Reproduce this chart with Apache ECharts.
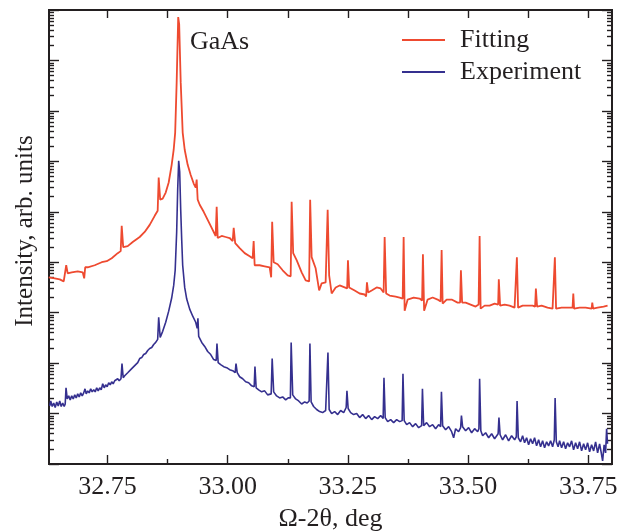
<!DOCTYPE html>
<html>
<head>
<meta charset="utf-8">
<script src="https://cdn.jsdelivr.net/npm/echarts@6/dist/echarts.min.js"></script>
<style>
html,body{margin:0;padding:0;background:#fff;}
#chart{width:629px;height:532px;}
</style>
</head>
<body>
<div id="chart"></div>
<script>
// ---- data (x in deg, intensity given as log10 of arb. units) ----
const xRange = [32.6285, 33.7993];
const xLabelTicks = [32.75, 33.00, 33.25, 33.50, 33.75];
const xMinorTicks = [32.875, 33.125, 33.375, 33.625];
const xTopTicks = [32.75, 32.875, 33.00, 33.125, 33.25, 33.375, 33.50, 33.625, 33.75];
const yDecades = [0, 1, 2, 3, 4, 5, 6, 7, 8, 9];
const seriesNames = ['Fitting', 'Experiment'];
const annotation = 'GaAs';

const fittingLog = [
[32.6279,3.70],[32.6404,3.68],[32.6508,3.66],[32.6591,3.62],[32.6622,3.60],[32.6643,3.94],[32.6674,3.78],[32.6757,3.80],[32.6882,3.82],[32.6986,3.80],
[32.7017,3.68],[32.7038,3.90],[32.7090,3.90],[32.7236,3.94],[32.7381,4.00],[32.7485,4.02],[32.7589,4.08],[32.7714,4.18],[32.7776,4.22],[32.7797,4.72],
[32.7828,4.30],[32.7922,4.32],[32.8026,4.40],[32.8171,4.50],[32.8275,4.60],[32.8379,4.74],[32.8483,4.92],[32.8545,5.02],[32.8566,5.68],[32.8597,5.24],
[32.8649,5.26],[32.8712,5.38],[32.8774,5.58],[32.8836,5.93],[32.8878,6.23],[32.8909,6.57],[32.8940,7.57],[32.8972,8.86],[32.8992,8.72],[32.9024,7.57],
[32.9065,6.57],[32.9107,6.23],[32.9169,5.93],[32.9232,5.73],[32.9294,5.56],[32.9336,5.48],[32.9356,5.64],[32.9377,5.24],[32.9419,5.14],[32.9502,5.00],
[32.9585,4.84],[32.9668,4.68],[32.9751,4.52],[32.9772,5.10],[32.9793,4.48],[32.9876,4.52],[32.9959,4.50],[33.0042,4.48],[33.0105,4.42],[33.0126,4.68],
[33.0157,4.38],[33.0250,4.28],[33.0354,4.18],[33.0458,4.12],[33.0520,4.08],[33.0541,4.42],[33.0562,3.94],[33.0666,3.94],[33.0770,3.92],[33.0874,3.90],
[33.0905,3.70],[33.0926,4.80],[33.0957,4.00],[33.1040,3.96],[33.1144,3.84],[33.1248,3.74],[33.1311,3.72],[33.1331,5.20],[33.1363,4.18],[33.1435,4.04],
[33.1539,3.80],[33.1623,3.64],[33.1695,3.62],[33.1716,5.24],[33.1747,4.10],[33.1830,3.88],[33.1903,3.44],[33.1955,3.58],[33.2038,3.60],[33.2080,5.04],
[33.2111,3.74],[33.2163,3.38],[33.2247,3.50],[33.2329,3.54],[33.2433,3.50],[33.2485,3.48],[33.2502,4.04],[33.2527,3.50],[33.2641,3.44],[33.2745,3.38],
[33.2849,3.36],[33.2880,3.32],[33.2897,3.60],[33.2922,3.40],[33.2995,3.44],[33.3099,3.50],[33.3182,3.48],[33.3244,3.40],[33.3265,4.50],[33.3296,3.38],
[33.3369,3.34],[33.3494,3.32],[33.3577,3.30],[33.3640,3.28],[33.3660,4.50],[33.3681,3.04],[33.3743,3.26],[33.3868,3.30],[33.3992,3.28],[33.4044,3.24],
[33.4061,4.16],[33.4086,3.04],[33.4159,3.26],[33.4263,3.30],[33.4367,3.26],[33.4429,3.22],[33.4450,4.24],[33.4471,3.18],[33.4554,3.26],[33.4658,3.26],
[33.4782,3.20],[33.4834,3.20],[33.4851,3.84],[33.4876,3.20],[33.4949,3.20],[33.5053,3.16],[33.5157,3.12],[33.5219,3.16],[33.5240,4.52],[33.5261,3.08],
[33.5344,3.14],[33.5448,3.14],[33.5552,3.18],[33.5625,3.16],[33.5639,3.66],[33.5666,3.14],[33.5760,3.16],[33.5863,3.14],[33.5967,3.10],[33.5999,3.10],
[33.6015,4.10],[33.6040,3.10],[33.6134,3.14],[33.6238,3.14],[33.6342,3.14],[33.6394,3.12],[33.6410,3.48],[33.6435,3.12],[33.6529,3.14],[33.6653,3.10],
[33.6757,3.08],[33.6789,3.08],[33.6805,4.10],[33.6830,3.08],[33.6945,3.10],[33.7069,3.10],[33.7173,3.10],[33.7188,3.38],[33.7205,3.08],[33.7319,3.10],
[33.7444,3.10],[33.7569,3.08],[33.7583,3.20],[33.7600,3.08],[33.7693,3.10],[33.7818,3.12],[33.7901,3.14]
];

const experimentLog = [
[32.6300,1.15],[32.6321,1.25],[32.6352,1.14],[32.6383,1.21],[32.6414,1.12],[32.6446,1.23],[32.6477,1.15],[32.6508,1.25],[32.6539,1.14],[32.6570,1.21],
[32.6601,1.14],[32.6622,1.19],[32.6639,1.51],[32.6664,1.29],[32.6695,1.35],[32.6726,1.27],[32.6757,1.35],[32.6789,1.29],[32.6820,1.37],[32.6851,1.31],
[32.6882,1.39],[32.6913,1.33],[32.6944,1.41],[32.6976,1.35],[32.7007,1.41],[32.7034,1.49],[32.7059,1.39],[32.7090,1.45],[32.7121,1.41],[32.7152,1.49],
[32.7183,1.43],[32.7215,1.47],[32.7246,1.43],[32.7277,1.51],[32.7308,1.45],[32.7340,1.51],[32.7371,1.47],[32.7402,1.59],[32.7433,1.51],[32.7464,1.57],
[32.7495,1.53],[32.7527,1.61],[32.7558,1.57],[32.7589,1.63],[32.7620,1.59],[32.7651,1.65],[32.7682,1.63],[32.7714,1.69],[32.7745,1.65],[32.7782,1.69],
[32.7803,1.99],[32.7828,1.71],[32.7859,1.75],[32.7890,1.73],[32.7922,1.81],[32.7963,1.83],[32.8005,1.89],[32.8046,1.91],[32.8088,1.97],[32.8130,2.01],
[32.8171,2.09],[32.8213,2.11],[32.8254,2.17],[32.8296,2.19],[32.8338,2.25],[32.8379,2.29],[32.8421,2.31],[32.8462,2.37],[32.8504,2.41],[32.8545,2.47],
[32.8566,2.91],[32.8597,2.51],[32.8649,2.63],[32.8712,2.81],[32.8774,3.03],[32.8836,3.29],[32.8878,3.54],[32.8909,3.84],[32.8940,4.60],[32.8961,5.44],
[32.8982,6.01],[32.9003,5.79],[32.9024,5.04],[32.9045,4.44],[32.9065,3.94],[32.9107,3.50],[32.9149,3.27],[32.9211,3.07],[32.9274,2.93],[32.9336,2.81],
[32.9367,2.69],[32.9382,2.89],[32.9398,2.53],[32.9461,2.41],[32.9523,2.33],[32.9585,2.23],[32.9648,2.17],[32.9710,2.07],[32.9762,2.05],[32.9778,2.39],
[32.9803,2.01],[32.9855,1.97],[32.9918,1.93],[32.9980,1.91],[33.0042,1.87],[33.0105,1.85],[33.0157,1.81],[33.0174,1.99],[33.0199,1.81],[33.0250,1.73],
[33.0313,1.69],[33.0375,1.63],[33.0437,1.61],[33.0500,1.55],[33.0552,1.53],[33.0568,1.93],[33.0593,1.51],[33.0645,1.47],[33.0708,1.43],[33.0770,1.45],
[33.0832,1.37],[33.0905,1.39],[33.0926,2.09],[33.0957,1.43],[33.1019,1.35],[33.1082,1.31],[33.1144,1.33],[33.1207,1.27],[33.1259,1.31],[33.1305,1.31],
[33.1321,2.41],[33.1353,1.37],[33.1415,1.29],[33.1477,1.25],[33.1539,1.19],[33.1602,1.23],[33.1654,1.21],[33.1695,1.25],[33.1711,2.39],[33.1736,1.23],
[33.1788,1.14],[33.1851,1.08],[33.1913,1.04],[33.1975,1.02],[33.2038,1.06],[33.2069,1.04],[33.2086,2.21],[33.2111,1.08],[33.2163,1.00],[33.2225,1.04],
[33.2288,0.98],[33.2350,1.06],[33.2413,1.02],[33.2465,1.12],[33.2481,1.45],[33.2506,1.10],[33.2558,1.02],[33.2620,0.98],[33.2683,1.00],[33.2745,0.92],
[33.2807,0.98],[33.2870,0.90],[33.2932,0.96],[33.2995,0.88],[33.3057,0.94],[33.3120,0.90],[33.3182,0.96],[33.3234,0.90],[33.3251,1.71],[33.3276,0.92],
[33.3328,0.84],[33.3390,0.88],[33.3452,0.82],[33.3515,0.88],[33.3577,0.84],[33.3629,0.86],[33.3646,1.79],[33.3671,0.86],[33.3723,0.78],[33.3784,0.82],
[33.3847,0.74],[33.3909,0.80],[33.3972,0.72],[33.4034,0.76],[33.4051,1.49],[33.4076,0.76],[33.4138,0.82],[33.4200,0.74],[33.4263,0.78],[33.4325,0.70],
[33.4387,0.78],[33.4429,0.74],[33.4446,1.43],[33.4471,0.76],[33.4533,0.68],[33.4596,0.74],[33.4658,0.64],[33.4700,0.52],[33.4741,0.70],[33.4803,0.64],
[33.4845,0.72],[33.4862,0.96],[33.4886,0.74],[33.4949,0.66],[33.5011,0.72],[33.5074,0.62],[33.5136,0.70],[33.5199,0.64],[33.5226,0.70],[33.5240,1.69],
[33.5265,0.66],[33.5303,0.56],[33.5365,0.62],[33.5428,0.52],[33.5490,0.60],[33.5552,0.50],[33.5625,0.60],[33.5642,0.92],[33.5666,0.58],[33.5718,0.48],
[33.5781,0.58],[33.5843,0.46],[33.5905,0.56],[33.5968,0.48],[33.6003,0.54],[33.6019,1.25],[33.6044,0.52],[33.6092,0.44],[33.6134,0.56],[33.6175,0.42],
[33.6217,0.52],[33.6259,0.38],[33.6300,0.50],[33.6342,0.40],[33.6383,0.52],[33.6425,0.36],[33.6467,0.48],[33.6508,0.34],[33.6550,0.46],[33.6591,0.32],
[33.6633,0.44],[33.6675,0.36],[33.6716,0.46],[33.6758,0.34],[33.6793,0.48],[33.6810,1.31],[33.6835,0.44],[33.6872,0.34],[33.6903,0.46],[33.6945,0.32],
[33.6987,0.44],[33.7028,0.30],[33.7070,0.42],[33.7111,0.34],[33.7153,0.46],[33.7194,0.28],[33.7236,0.42],[33.7278,0.30],[33.7319,0.44],[33.7361,0.26],
[33.7403,0.40],[33.7444,0.28],[33.7486,0.42],[33.7527,0.24],[33.7569,0.38],[33.7611,0.26],[33.7652,0.44],[33.7694,0.22],[33.7735,0.40],[33.7766,0.24],
[33.7798,0.06],[33.7829,0.38],[33.7860,0.22],[33.7881,0.70],[33.7900,0.40]
];

// ---- presentation ----
const FONT = '"Liberation Serif", "Times New Roman", "DejaVu Serif", serif';
const INK = '#231f20';
const RED = '#ee4a30';
const BLUE = '#35308f';

// minor log tick positions (in decade units) for the tick-only axes
const yMinorTicks = [];
for (let d = 0; d < 9; d++) {
  for (let k = 2; k <= 9; k++) yMinorTicks.push(d + Math.log10(k));
}

const toIntensity = pts => pts.map(p => [p[0], Math.pow(10, p[1])]);

const gridRect = { left: 49, right: 17, top: 10, bottom: 68, containLabel: false, outerBoundsMode: 'none' };
const tickStyle = { color: INK, width: 1.4 };

function tickAxis(extra) {
  return Object.assign({
    type: 'value',
    axisLine: { show: false },
    axisLabel: { show: false },
    splitLine: { show: false }
  }, extra);
}

const chart = echarts.init(document.getElementById('chart'), null, { renderer: 'canvas' });

chart.setOption({
  animation: false,
  backgroundColor: '#fff',
  grid: [
    Object.assign({ show: true, borderColor: INK, borderWidth: 2, backgroundColor: 'transparent' }, gridRect),
    Object.assign({}, gridRect),
    Object.assign({}, gridRect)
  ],
  xAxis: [
    {
      gridIndex: 0, type: 'value', position: 'bottom',
      min: xRange[0], max: xRange[1],
      axisLine: { show: false },
      splitLine: { show: false },
      axisTick: { inside: true, length: 9, customValues: xLabelTicks, lineStyle: tickStyle },
      axisLabel: {
        customValues: xLabelTicks, margin: 10,
        formatter: v => Number(v).toFixed(2),
        fontFamily: FONT, fontSize: 26, color: INK
      },
      name: 'Ω-2θ, deg', nameLocation: 'middle', nameGap: 42,
      nameTextStyle: { fontFamily: FONT, fontSize: 26, color: INK }
    },
    tickAxis({
      gridIndex: 0, position: 'top', min: xRange[0], max: xRange[1],
      axisTick: { inside: true, length: 8, customValues: xTopTicks, lineStyle: tickStyle }
    }),
    tickAxis({
      gridIndex: 1, position: 'bottom', min: xRange[0], max: xRange[1],
      axisTick: { inside: true, length: 5, customValues: xMinorTicks, lineStyle: tickStyle }
    }),
    tickAxis({
      gridIndex: 2, position: 'bottom', min: xRange[0], max: xRange[1],
      axisTick: { show: false }
    })
  ],
  yAxis: [
    {
      gridIndex: 0, type: 'log', logBase: 10, min: 1, max: 1e9, position: 'left',
      show: false
    },
    tickAxis({
      gridIndex: 0, position: 'right', min: 0, max: 9,
      axisTick: { inside: true, length: 10, customValues: yDecades, lineStyle: tickStyle }
    }),
    tickAxis({
      gridIndex: 1, position: 'left', min: 0, max: 9,
      axisTick: { inside: true, length: 10, customValues: yDecades, lineStyle: tickStyle }
    }),
    tickAxis({
      gridIndex: 1, position: 'right', min: 0, max: 9,
      axisTick: { inside: true, length: 5, customValues: yMinorTicks, lineStyle: tickStyle }
    }),
    tickAxis({
      gridIndex: 2, position: 'left', min: 0, max: 9,
      axisTick: { inside: true, length: 5, customValues: yMinorTicks, lineStyle: tickStyle }
    })
  ],
  legend: {
    data: seriesNames,
    orient: 'vertical',
    left: 402, top: 27, padding: 0,
    itemWidth: 43, itemHeight: 2, itemGap: 6,
    icon: 'rect',
    textStyle: { fontFamily: FONT, fontSize: 26, color: INK, lineHeight: 26, padding: [0, 0, 0, 10] }
  },
  graphic: [
    {
      type: 'text', left: 190, top: 29, silent: true,
      style: { text: annotation, font: '26px ' + FONT, fill: INK }
    },
    {
      type: 'text', x: 25, y: 231, rotation: Math.PI / 2, silent: true,
      style: { text: 'Intensity, arb. units', font: '25px ' + FONT, fill: INK, align: 'center', verticalAlign: 'middle' }
    }
  ],
  series: [
    {
      name: seriesNames[0], type: 'line', xAxisIndex: 0, yAxisIndex: 0,
      data: toIntensity(fittingLog),
      showSymbol: false, symbol: 'none',
      lineStyle: { color: RED, width: 1.8 },
      itemStyle: { color: RED },
      z: 3
    },
    {
      name: seriesNames[1], type: 'line', xAxisIndex: 0, yAxisIndex: 0,
      data: toIntensity(experimentLog),
      showSymbol: false, symbol: 'none',
      lineStyle: { color: BLUE, width: 1.6 },
      itemStyle: { color: BLUE },
      z: 3
    }
  ]
});
</script>
</body>
</html>
